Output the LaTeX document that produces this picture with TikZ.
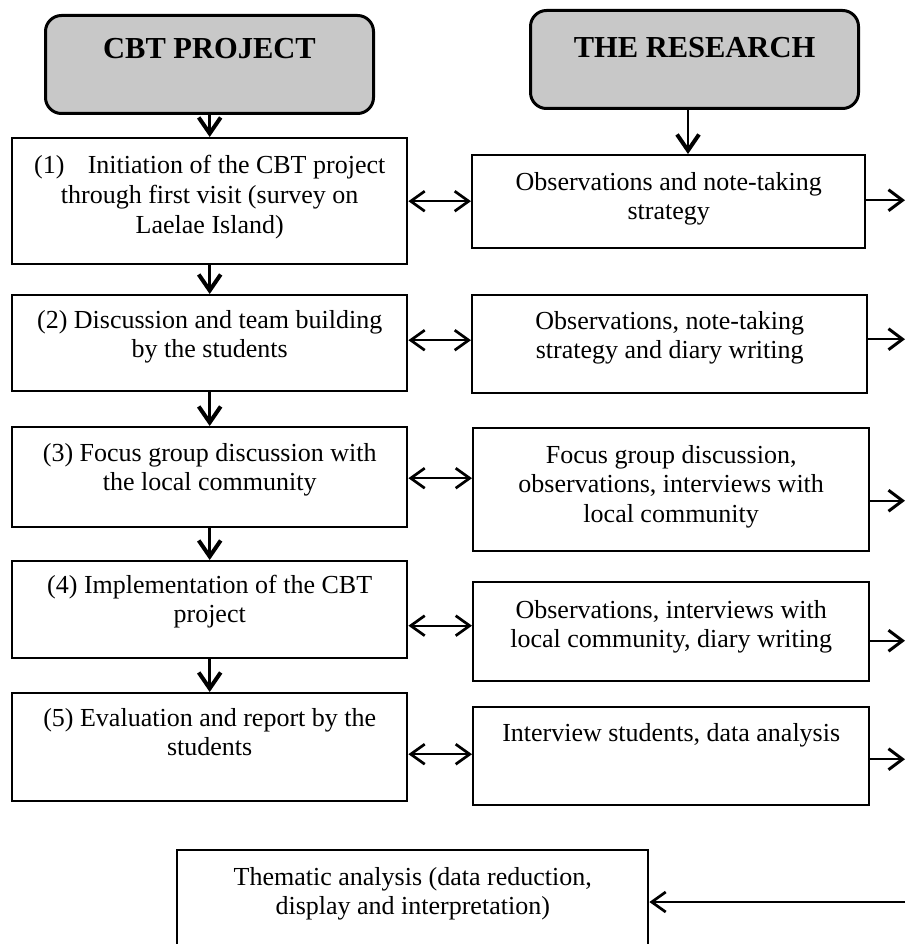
\documentclass[tikz,border=0pt]{standalone}
\usepackage{fontspec}
\setmainfont{Liberation Serif}
\usetikzlibrary{arrows.meta,calc}
\begin{document}
\begin{tikzpicture}[x=1pt,y=-1pt,
  box/.style={draw=black,line width=2.4pt,rectangle,inner sep=0pt},
  head/.style={draw=black,line width=3pt,rounded corners=16pt,fill=headgray,inner sep=0pt},
  txt/.style={align=center,inner sep=0pt,anchor=base,font=\fontsize{26}{29.5}\selectfont},
  htxt/.style={inner sep=0pt,anchor=base,font=\fontsize{30.5}{34}\selectfont\bfseries},
  down/.style={line width=2.8pt,-{Straight Barb[length=16pt,width=22pt,line width=4pt]}},
  dbl/.style={line width=1.8pt,{Straight Barb[length=14pt,width=20pt,line width=2.7pt]}-{Straight Barb[length=14pt,width=20pt,line width=2.7pt]}},
  outarrow/.style={line width=2.4pt,-{Straight Barb[length=14pt,width=21pt,line width=3pt]}},
  inarrow/.style={line width=2pt,-{Straight Barb[length=14pt,width=20pt,line width=2.7pt]}}
]
\definecolor{headgray}{RGB}{200,200,200}
\useasboundingbox (0,0) rectangle (905,944);
\clip (0,0) rectangle (905,944);
\fill[white] (0,0) rectangle (905,944);

% headers
\node[head,minimum width=328pt,minimum height=98pt,anchor=north west] (H1) at (44,14) {};
\node[htxt] (H1t) at ([yshift=-45pt]H1.north) {CBT PROJECT};
\node[head,minimum width=328pt,minimum height=98pt,anchor=north west] (H2) at (529,9) {};
\node[htxt] (H2t) at ([yshift=-49pt]H2.north) {THE RESEARCH};

% left column
\node[box,minimum width=395pt,minimum height=126pt,anchor=north west] (L1) at (11,137) {};
\node[box,minimum width=395pt,minimum height=96pt,anchor=north west] (L2) at (11,294) {};
\node[box,minimum width=395pt,minimum height=100pt,anchor=north west] (L3) at (11,426) {};
\node[box,minimum width=395pt,minimum height=97pt,anchor=north west] (L4) at (11,560) {};
\node[box,minimum width=395pt,minimum height=108pt,anchor=north west] (L5) at (11,692) {};

\node[txt] (L1t) at ([yshift=-96pt]L1.north) {(1)\hspace{0.9em}Initiation of the CBT project\\through first visit (survey on\\Laelae Island)};
\node[txt] (L2t) at ([yshift=-63.5pt]L2.north) {(2) Discussion and team building\\by the students};
\node[txt] (L3t) at ([yshift=-64.5pt]L3.north) {(3) Focus group discussion with\\the local community};
\node[txt] (L4t) at ([yshift=-62.5pt]L4.north) {(4) Implementation of the CBT\\project};
\node[txt] (L5t) at ([yshift=-63.5pt]L5.north) {(5) Evaluation and report by the\\students};

% right column
\node[box,minimum width=393pt,minimum height=93pt,anchor=north west] (R1) at (471,154) {};
\node[box,minimum width=395pt,minimum height=98pt,anchor=north west] (R2) at (471,294) {};
\node[box,minimum width=396pt,minimum height=123pt,anchor=north west] (R3) at (472,427) {};
\node[box,minimum width=396pt,minimum height=99pt,anchor=north west] (R4) at (472,581) {};
\node[box,minimum width=396pt,minimum height=98pt,anchor=north west] (R5) at (472,706) {};

\node[txt] (R1t) at ([yshift=-65.5pt]R1.north) {Observations and note-taking\\strategy};
\node[txt] (R2t) at ([yshift=-64.5pt]R2.north) {Observations, note-taking\\strategy and diary writing};
\node[txt] (R3t) at ([yshift=-95pt]R3.north) {Focus group discussion,\\observations, interviews with\\local community};
\node[txt] (R4t) at ([yshift=-66.5pt]R4.north) {Observations, interviews with\\local community, diary writing};
\node[txt] (R5t) at ([yshift=-35pt]R5.north) {Interview students, data analysis};

% thematic
\node[box,minimum width=471pt,minimum height=120pt,anchor=north west] (T) at (176,849) {};
\node[txt] (Tt) at ([yshift=-65.5pt]T.north) {Thematic analysis (data reduction,\\display and interpretation)};

% edge coordinates
\coordinate (edge) at (905,0);
\coordinate (tin) at (905,902);
\coordinate (rtop) at (688,154);

% vertical arrows
\draw[down] (H1.south -| L1.north) -- (L1.north);
\draw[down] (H2.south -| rtop) -- (rtop);
\draw[down] (L1.south) -- (L2.north);
\draw[down] (L2.south) -- (L3.north);
\draw[down] (L3.south) -- (L4.north);
\draw[down] (L4.south) -- (L5.north);

% double arrows
\draw[dbl] (L1.east) -- (L1.east -| R1.west);
\draw[dbl] ([yshift=3pt]L2.east) -- ([yshift=3pt]L2.east -| R2.west);
\draw[dbl] ([yshift=-1pt]L3.east) -- ([yshift=-1pt]L3.east -| R3.west);
\draw[dbl] ([yshift=-16pt]L4.east) -- ([yshift=-16pt]L4.east -| R4.west);
\draw[dbl] ([yshift=-7pt]L5.east) -- ([yshift=-7pt]L5.east -| R5.west);

% outgoing arrows
\draw[outarrow] ([yshift=1.5pt]R1.east) -- ([yshift=1.5pt]R1.east -| edge);
\draw[outarrow] ([yshift=5pt]R2.east) -- ([yshift=5pt]R2.east -| edge);
\draw[outarrow] ([yshift=-11pt]R3.east) -- ([yshift=-11pt]R3.east -| edge);
\draw[outarrow] ([yshift=-9pt]R4.east) -- ([yshift=-9pt]R4.east -| edge);
\draw[outarrow] ([yshift=-3pt]R5.east) -- ([yshift=-3pt]R5.east -| edge);

% incoming arrow to thematic
\draw[inarrow] (tin) -- (tin -| T.east);
\end{tikzpicture}
\end{document}
